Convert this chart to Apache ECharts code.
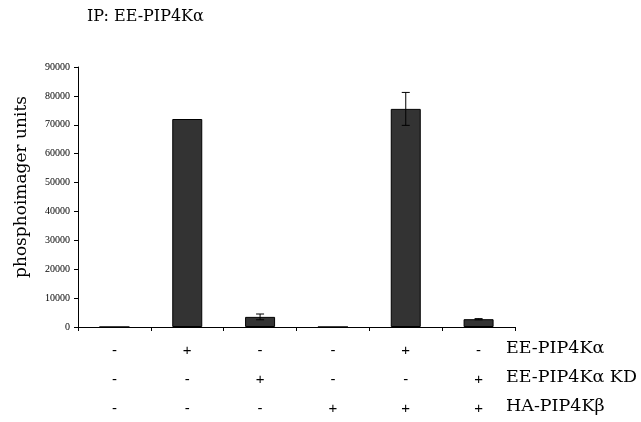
<!DOCTYPE html>
<html>
<head>
<meta charset="utf-8">
<script src="https://cdn.jsdelivr.net/npm/echarts@6/dist/echarts.min.js"></script>
<style>
  html, body { margin: 0; padding: 0; background: #fff; }
  #chart { width: 641px; height: 422px; }
</style>
</head>
<body>
<div id="chart"></div>
<script>
// 数据
var categories = ['c1', 'c2', 'c3', 'c4', 'c5', 'c6'];
var values = [0, 72000, 3500, 0, 75500, 2700];
var errors = [0, 0, 1000, 0, 5700, 200];
var rowEE = ['-', '+', '-', '-', '+', '-'];
var rowKD = ['-', '-', '+', '-', '-', '+'];
var rowHA = ['-', '-', '-', '+', '+', '+'];
var rowNames = ['EE-PIP4Kα', 'EE-PIP4Kα KD', 'HA-PIP4Kβ'];
var yTicks = [0, 10000, 20000, 30000, 40000, 50000, 60000, 70000, 80000, 90000];

var serif = '"DejaVu Serif", serif';
var chart = echarts.init(document.getElementById('chart'));

var errData = [];
for (var i = 0; i < values.length; i++) {
    if (errors[i] > 0) errData.push([i, values[i] - errors[i], values[i] + errors[i]]);
}

var texts = rowNames.map(function (name, k) {
    return {
        type: 'text',
        x: 506,
        y: 348 + k * 29,
        style: {text: name, fontFamily: serif, fontSize: 17.5, fill: '#000', verticalAlign: 'middle'}
    };
});
// 标题
texts.push({
    type: 'text',
    x: 87,
    y: 17,
    style: {text: 'IP: EE-PIP4Kα', fontFamily: serif, fontSize: 16, fill: '#000', verticalAlign: 'middle'}
});
// y轴名称
texts.push({
    type: 'text',
    x: 22,
    y: 187,
    rotation: Math.PI / 2,
    style: {text: 'phosphoimager units', fontFamily: serif, fontSize: 17, fill: '#000', align: 'center', verticalAlign: 'middle'}
});

var option = {
    animation: false,
    backgroundColor: '#fff',
    graphic: texts,
    grid: {left: 78, right: 126, top: 67, bottom: 95, outerBoundsMode: 'none', containLabel: false},
    xAxis: {
        type: 'category',
        data: categories,
        axisLine: {lineStyle: {color: '#000', width: 1}},
        axisTick: {show: true, interval: 0, length: 4, lineStyle: {color: '#000'}},
        axisLabel: {
            interval: 0,
            margin: 9,
            lineHeight: 29,
            fontFamily: '"Liberation Sans", sans-serif',
            fontSize: 15,
            color: '#000',
            formatter: function (v, idx) {
                return rowEE[idx] + '\n' + rowKD[idx] + '\n' + rowHA[idx];
            }
        }
    },
    yAxis: {
        type: 'value',
        min: 0,
        max: 90000,
        interval: 10000,
        splitLine: {show: false},
        axisLine: {show: true, lineStyle: {color: '#000', width: 1}},
        axisTick: {show: true, length: 4, lineStyle: {color: '#000'}},
        axisLabel: {
            margin: 8,
            fontFamily: '"Liberation Serif", serif',
            fontSize: 10,
            color: '#000',
            formatter: function (v) { return yTicks.indexOf(v) >= 0 ? String(v) : ''; }
        }
    },
    series: [{
        type: 'bar',
        data: values,
        barWidth: 30,
        itemStyle: {color: '#333333', borderColor: '#000', borderWidth: 1}
    }, {
        type: 'custom',
        data: errData,
        z: 10,
        renderItem: function (params, api) {
            var lo = api.coord([api.value(0), api.value(1)]);
            var hi = api.coord([api.value(0), api.value(2)]);
            var w = 4;
            var st = {stroke: '#000', lineWidth: 1};
            return {
                type: 'group',
                children: [
                    {type: 'line', shape: {x1: hi[0], y1: hi[1], x2: lo[0], y2: lo[1]}, style: st},
                    {type: 'line', shape: {x1: hi[0] - w, y1: hi[1], x2: hi[0] + w, y2: hi[1]}, style: st},
                    {type: 'line', shape: {x1: lo[0] - w, y1: lo[1], x2: lo[0] + w, y2: lo[1]}, style: st}
                ]
            };
        }
    }]
};
chart.setOption(option);
</script>
</body>
</html>
